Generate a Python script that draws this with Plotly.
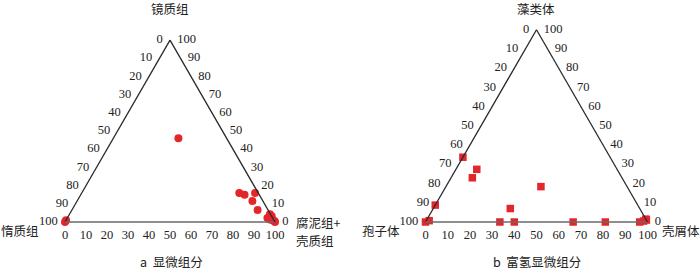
import plotly.graph_objects as go

# ---------------- data ----------------
tick_values = [0, 10, 20, 30, 40, 50, 60, 70, 80, 90, 100]

# Chart a: 显微组分  (a = 镜质组, b = 惰质组, c = 腐泥组+壳质组)
a_vitrinite = [46, 16, 15, 16, 11.5, 6.6, 4.2, 3.1, 2.2, 1.4, 0.9, 0.5, 0, 0, 1]
a_inertinite = [23, 9, 7, 1.5, 5, 5, 0.3, 0, 2.5, 1.7, 0.7, 0, 0, 100, 99]
a_sapro_exinite = [31, 75, 78, 82.5, 83.5, 88.4, 95.5, 96.9, 95.3, 96.9, 98.4, 99.5, 100, 0, 0]

# Chart b: 富氢显微组分 (a = 藻类体, b = 孢子体, c = 壳屑体)
b_alginite = [33.7, 27.4, 23, 18.4, 8.8, 7, 0.7, 0, 0, 0, 0, 0, 0, 0.5, 1, 1.5]
b_sporinite = [66.3, 63.2, 67.4, 38.8, 91.2, 58.3, 98, 100, 66.5, 60, 33.5, 19, 3.5, 1.5, 0, 0]
b_liptodetrinite = [0, 9.4, 9.6, 42.8, 0, 34.7, 1.3, 0, 33.5, 40, 66.5, 81, 96.5, 98, 99, 98.5]

RED = "#e3262a"
NUMFONT = dict(family="Liberation Serif, Times New Roman, serif", size=12.5, color="#222222")
CJKFONT = dict(family="Noto Sans CJK SC, sans-serif", size=12.5, color="#222222")

fig = go.Figure()


def add_tick_labels(subplot):
    inv = [100 - v for v in tick_values]
    zeros = [0] * len(tick_values)
    txt = [str(v) for v in tick_values]
    common = dict(mode="markers+text", subplot=subplot, text=txt, textfont=NUMFONT,
                  marker=dict(size=10, color="rgba(0,0,0,0)"), cliponaxis=False,
                  hoverinfo="skip", showlegend=False)
    # left edge: value of bottom-left component, 0 at top
    fig.add_trace(go.Scatterternary(a=inv, b=tick_values, c=zeros, textposition="middle left", **common))
    # right edge: value of top component, 100 at top
    fig.add_trace(go.Scatterternary(a=tick_values, b=zeros, c=inv, textposition="middle right", **common))
    # bottom edge: value of bottom-right component, 0 at left
    fig.add_trace(go.Scatterternary(a=zeros, b=inv, c=tick_values, textposition="bottom center", **common))


add_tick_labels("ternary")
add_tick_labels("ternary2")

fig.add_trace(go.Scatterternary(
    a=a_vitrinite, b=a_inertinite, c=a_sapro_exinite, mode="markers", subplot="ternary",
    marker=dict(symbol="circle", size=8, color=RED, line=dict(width=0)),
    cliponaxis=False, showlegend=False))

fig.add_trace(go.Scatterternary(
    a=b_alginite, b=b_sporinite, c=b_liptodetrinite, mode="markers", subplot="ternary2",
    marker=dict(symbol="square", size=7.5, color=RED, line=dict(width=0)),
    cliponaxis=False, showlegend=False))

W, H = 700, 271


def ax(color):
    return dict(showgrid=False, showticklabels=False, ticks="", showline=True,
                linecolor=color, linewidth=1.3, title=dict(text=""))


def tern(x0, x1, ytop, ybot):
    return dict(domain=dict(x=[x0 / W, x1 / W], y=[1 - ybot / H, 1 - ytop / H]),
                sum=100, bgcolor="rgba(0,0,0,0)",
                aaxis=ax("#2a2a2a"), baxis=ax("#6a6a6a"), caxis=ax("#2a2a2a"))


# equilateral triangles: height = width * sqrt(3)/2
wa = 210
ha = wa * 3 ** 0.5 / 2
wb = 222
hb = wb * 3 ** 0.5 / 2
fig.update_layout(
    width=W, height=H, margin=dict(l=0, r=0, t=0, b=0),
    paper_bgcolor="white", plot_bgcolor="white",
    ternary=tern(170 - wa / 2, 170 + wa / 2, 222 - ha, 222),
    ternary2=tern(536.5 - wb / 2, 536.5 + wb / 2, 222 - hb, 222),
)


def ann(text, x, y, xanchor="center", font=CJKFONT, align="center"):
    fig.add_annotation(text=text, x=x / W, y=1 - y / H, xref="paper", yref="paper",
                       xanchor=xanchor, yanchor="middle", showarrow=False, font=font,
                       align=align, borderpad=0)


ann("镜质组", 169.5, 9)
ann("惰质组", 0, 230, "left")
ann("腐泥组+", 295, 222, "left")
ann("壳质组", 295, 240, "left")
ann("藻类体", 536, 9)
ann("孢子体", 361, 230, "left")
ann("壳屑体", 661, 230, "left")
ann("a  显微组分", 171, 261.5)
ann("b  富氢显微组分", 537, 261.5)

fig.write_html(
    "out.html",
    config={"displayModeBar": False},
    post_script="document.body.style.margin='0';document.body.style.padding='0';"
                "document.documentElement.style.overflow='hidden';",
)
